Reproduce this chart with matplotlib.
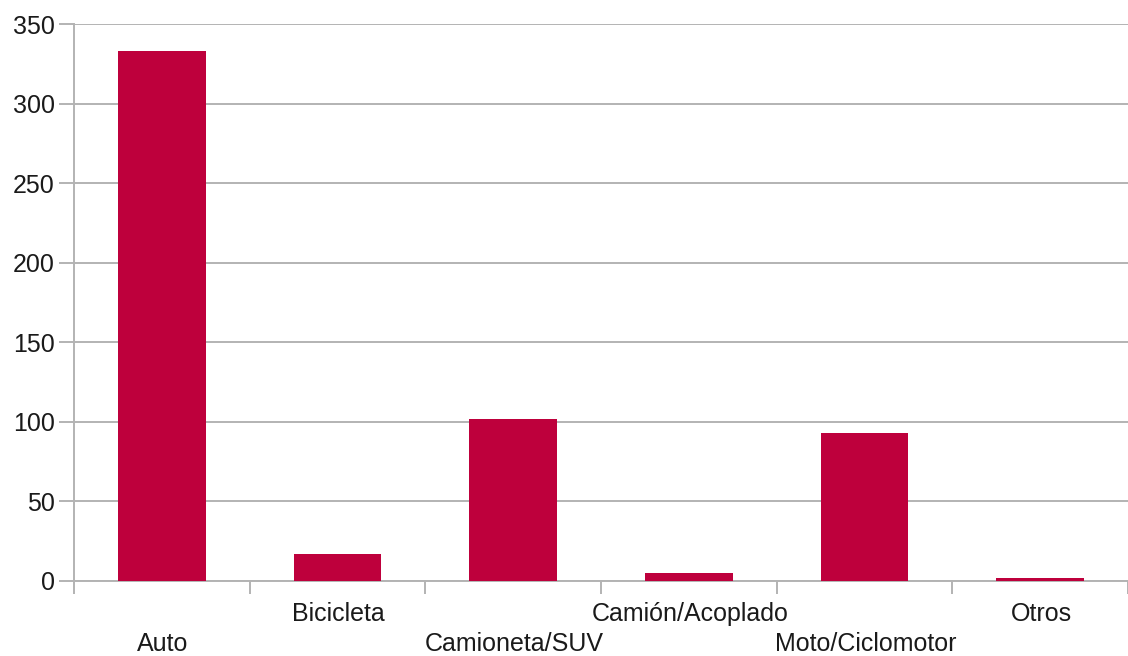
import numpy as np
import matplotlib.pyplot as plt

# values
categories = ['Auto', 'Bicicleta', 'Camioneta/SUV', 'Camión/Acoplado', 'Moto/Ciclomotor', 'Otros']
values = [333, 17, 102, 5, 93, 2]
y_ticks = [0, 50, 100, 150, 200, 250, 300, 350]

plt.rcParams['font.family'] = ['Liberation Sans', 'DejaVu Sans']

fig = plt.figure(figsize=(11.28, 6.56), dpi=100)
ax = fig.add_axes([74 / 1128, 75 / 656, 1 - 74 / 1128, (581 - 24) / 656])

grid_col = '#b3b3b3'
txt_col = '#1a1a1a'
x = np.arange(len(categories))
ax.bar(x, values, width=0.5, color='#be003c', zorder=3)

ax.set_xlim(-0.5, len(categories) - 0.5)
ax.set_ylim(0, 350)
ax.set_yticks(y_ticks)
ax.set_yticklabels([str(v) for v in y_ticks], fontsize=18, color=txt_col)
ax.yaxis.grid(True, color=grid_col, linewidth=1.4, zorder=0)
ax.tick_params(axis='y', length=11, width=1.4, color=grid_col, pad=3)

# category boundaries carry the ticks, labels are placed separately (staggered)
ax.set_xticks(np.arange(len(categories) + 1) - 0.5)
ax.set_xticklabels([])
ax.tick_params(axis='x', length=9, width=1.4, color=grid_col)

for s in ['top', 'right']:
    ax.spines[s].set_visible(False)
for s in ['left', 'bottom']:
    ax.spines[s].set_color(grid_col)
    ax.spines[s].set_linewidth(1.4)

trans = ax.get_xaxis_transform()
for i, name in enumerate(categories):
    off = -63 if i % 2 == 0 else -33
    ax.annotate(name, xy=(i, 0), xycoords=trans, xytext=(1, off),
                textcoords='offset pixels', ha='center', va='center',
                fontsize=18, color=txt_col)

fig.savefig('out.png', dpi=100)
